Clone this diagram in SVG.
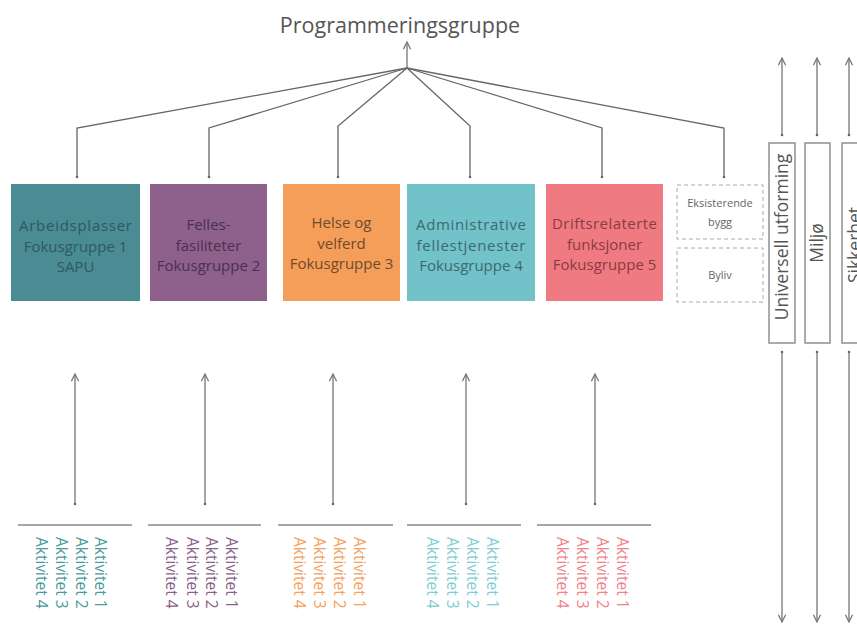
<svg xmlns="http://www.w3.org/2000/svg" width="857" height="626" viewBox="0 0 857 626">
<defs>
<marker id="ah" viewBox="0 0 10 10" refX="9" refY="5" markerWidth="9" markerHeight="9" markerUnits="userSpaceOnUse" orient="auto">
<path d="M1,1 L9,5 L1,9" fill="none" stroke="#777" stroke-width="1.4"/>
</marker>
</defs>
<style>
.t{font-family:"Open Sans","Liberation Sans",sans-serif}
.bt{font-family:"Open Sans","Liberation Sans",sans-serif;font-size:15px;text-anchor:middle}
.ln{fill:none;stroke:#666;stroke-width:1.3}
.ar{fill:none;stroke:#888;stroke-width:1.5;marker-end:url(#ah)}
.hl{stroke:#888;stroke-width:1.6}
.dot{fill:#666}
.ds{fill:#fff;stroke:#aaa;stroke-width:1;stroke-dasharray:4 3}
.vb{fill:#fff;stroke:#888;stroke-width:1.4}
.vt{font-family:"Open Sans","Liberation Sans",sans-serif;font-size:17.5px;fill:#555;text-anchor:middle}
.ak{font-family:"Open Sans","Liberation Sans",sans-serif;font-size:15.5px}
.sm{font-family:"Open Sans","Liberation Sans",sans-serif;font-size:11px;fill:#666;text-anchor:middle}
</style>
<rect width="857" height="626" fill="#fff"/>

<g id="programmeringsgruppe">
<text class="t" x="400" y="33" font-size="21.5" fill="#555" text-anchor="middle">Programmeringsgruppe</text>
</g>

<g id="connectors">
<line class="ar" x1="407" y1="68" x2="407" y2="42"/>
<polyline class="ln" points="407,68 77,128 77,177"/>
<polyline class="ln" points="407,68 209,128 209,177"/>
<polyline class="ln" points="407,68 338,126 338,177"/>
<polyline class="ln" points="407,68 470,126 470,177"/>
<polyline class="ln" points="407,68 602,128 602,177"/>
<polyline class="ln" points="407,68 724,128 724,177"/>
<circle class="dot" cx="77" cy="177" r="1.3"/>
<circle class="dot" cx="209" cy="177" r="1.3"/>
<circle class="dot" cx="338" cy="177" r="1.3"/>
<circle class="dot" cx="470" cy="177" r="1.3"/>
<circle class="dot" cx="602" cy="177" r="1.3"/>
<circle class="dot" cx="724" cy="177" r="1.3"/>

<line class="ar" x1="75" y1="504" x2="75" y2="374"/>
<line class="ar" x1="205" y1="504" x2="205" y2="374"/>
<line class="ar" x1="333" y1="504" x2="333" y2="374"/>
<line class="ar" x1="466" y1="504" x2="466" y2="374"/>
<line class="ar" x1="595" y1="504" x2="595" y2="374"/>
<circle class="dot" cx="75" cy="504" r="1.3"/>
<circle class="dot" cx="205" cy="504" r="1.3"/>
<circle class="dot" cx="333" cy="504" r="1.3"/>
<circle class="dot" cx="466" cy="504" r="1.3"/>
<circle class="dot" cx="595" cy="504" r="1.3"/>

<line class="ar" x1="782" y1="135" x2="782" y2="58"/>
<line class="ar" x1="817" y1="135" x2="817" y2="58"/>
<line class="ar" x1="849" y1="135" x2="849" y2="58"/>
<line class="ar" x1="782" y1="352" x2="782" y2="622"/>
<line class="ar" x1="817" y1="352" x2="817" y2="622"/>
<line class="ar" x1="849" y1="352" x2="849" y2="622"/>
<circle class="dot" cx="782" cy="135" r="1.3"/>
<circle class="dot" cx="817" cy="135" r="1.3"/>
<circle class="dot" cx="849" cy="135" r="1.3"/>
<circle class="dot" cx="782" cy="352" r="1.3"/>
<circle class="dot" cx="817" cy="352" r="1.3"/>
<circle class="dot" cx="849" cy="352" r="1.3"/>
</g>

<g id="fokusgruppe1">
<rect x="11" y="184" width="129" height="117" fill="#4b8b94"/>
<text class="bt" fill="#2c5a60"><tspan x="75.5" y="231" textLength="113">Arbeidsplasser</tspan><tspan x="75.5" y="251.5">Fokusgruppe 1</tspan><tspan x="75.5" y="272">SAPU</tspan></text>
</g>
<g id="fokusgruppe2">
<rect x="150" y="184" width="117" height="117" fill="#8d618c"/>
<text class="bt" fill="#4c3050"><tspan x="208.5" y="230">Felles-</tspan><tspan x="208.5" y="250.5">fasiliteter</tspan><tspan x="208.5" y="271">Fokusgruppe 2</tspan></text>
</g>
<g id="fokusgruppe3">
<rect x="283" y="184" width="117" height="117" fill="#f59e59"/>
<text class="bt" fill="#6e4b2c"><tspan x="341.5" y="228">Helse og</tspan><tspan x="341.5" y="248.5">velferd</tspan><tspan x="341.5" y="269">Fokusgruppe 3</tspan></text>
</g>
<g id="fokusgruppe4">
<rect x="407" y="184" width="128" height="117" fill="#72c2c9"/>
<text class="bt" fill="#3b6a70"><tspan x="471" y="230" textLength="110">Administrative</tspan><tspan x="471" y="250.5" textLength="109">fellestjenester</tspan><tspan x="471" y="271">Fokusgruppe 4</tspan></text>
</g>
<g id="fokusgruppe5">
<rect x="546" y="184" width="117" height="117" fill="#f07a82"/>
<text class="bt" fill="#8a3a42"><tspan x="604.5" y="229" textLength="105">Driftsrelaterte</tspan><tspan x="604.5" y="249.5">funksjoner</tspan><tspan x="604.5" y="270">Fokusgruppe 5</tspan></text>
</g>

<g id="eksisterende-bygg">
<rect class="ds" x="677" y="185" width="86" height="54"/>
<text class="sm"><tspan x="720" y="207">Eksisterende</tspan><tspan x="720" y="226">bygg</tspan></text>
</g>
<g id="byliv">
<rect class="ds" x="677" y="248" width="86" height="54"/>
<text class="sm" x="720" y="279">Byliv</text>
</g>

<g id="universell-utforming">
<rect class="vb" x="769" y="143" width="26" height="200"/>
<text class="vt" transform="translate(788,237) rotate(-90)">Universell utforming</text>
</g>
<g id="miljo">
<rect class="vb" x="805" y="143" width="25" height="200"/>
<text class="vt" transform="translate(823,243) rotate(-90)">Miljø</text>
</g>
<g id="sikkerhet">
<rect class="vb" x="842" y="143" width="26" height="200"/>
<text class="vt" transform="translate(861,245) rotate(-90)">Sikkerhet</text>
</g>

<g id="aktiviteter1" fill="#4a9a9e">
<line class="hl" x1="18" y1="525" x2="132" y2="525"/>
<text class="ak" transform="translate(95,537) rotate(90)">Aktivitet 1</text>
<text class="ak" transform="translate(76,537) rotate(90)">Aktivitet 2</text>
<text class="ak" transform="translate(56,537) rotate(90)">Aktivitet 3</text>
<text class="ak" transform="translate(36,537) rotate(90)">Aktivitet 4</text>
</g>
<g id="aktiviteter2" fill="#8a5f8a">
<line class="hl" x1="148" y1="525" x2="261" y2="525"/>
<text class="ak" transform="translate(226,537) rotate(90)">Aktivitet 1</text>
<text class="ak" transform="translate(206,537) rotate(90)">Aktivitet 2</text>
<text class="ak" transform="translate(187,537) rotate(90)">Aktivitet 3</text>
<text class="ak" transform="translate(166,537) rotate(90)">Aktivitet 4</text>
</g>
<g id="aktiviteter3" fill="#f5a15c">
<line class="hl" x1="278" y1="525" x2="393" y2="525"/>
<text class="ak" transform="translate(354,537) rotate(90)">Aktivitet 1</text>
<text class="ak" transform="translate(334,537) rotate(90)">Aktivitet 2</text>
<text class="ak" transform="translate(314,537) rotate(90)">Aktivitet 3</text>
<text class="ak" transform="translate(294,537) rotate(90)">Aktivitet 4</text>
</g>
<g id="aktiviteter4" fill="#7fcdd3">
<line class="hl" x1="407" y1="525" x2="521" y2="525"/>
<text class="ak" transform="translate(487,537) rotate(90)">Aktivitet 1</text>
<text class="ak" transform="translate(467,537) rotate(90)">Aktivitet 2</text>
<text class="ak" transform="translate(447,537) rotate(90)">Aktivitet 3</text>
<text class="ak" transform="translate(427,537) rotate(90)">Aktivitet 4</text>
</g>
<g id="aktiviteter5" fill="#f0828a">
<line class="hl" x1="537" y1="525" x2="651" y2="525"/>
<text class="ak" transform="translate(617,537) rotate(90)">Aktivitet 1</text>
<text class="ak" transform="translate(597,537) rotate(90)">Aktivitet 2</text>
<text class="ak" transform="translate(577,537) rotate(90)">Aktivitet 3</text>
<text class="ak" transform="translate(557,537) rotate(90)">Aktivitet 4</text>
</g>
</svg>
